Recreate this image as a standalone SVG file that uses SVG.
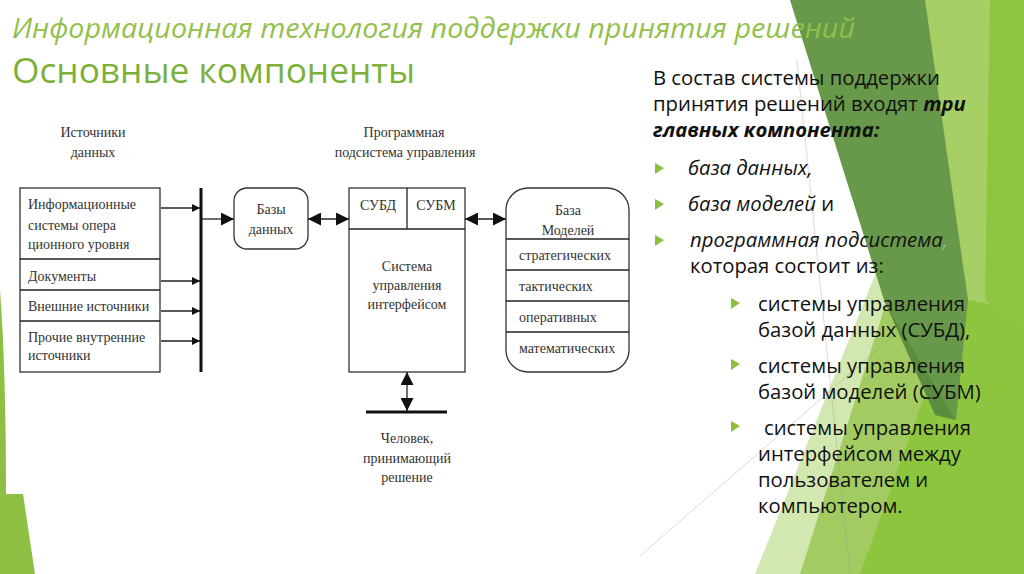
<svg xmlns="http://www.w3.org/2000/svg" width="1024" height="574" viewBox="0 0 1024 574">
<defs>
<style>
.dg{font-family:"Liberation Serif",serif;font-size:14px;fill:#333}
.dgc{font-family:"Liberation Serif",serif;font-size:14px;fill:#333;text-anchor:middle}
.box{fill:#fff;stroke:#333;stroke-width:1.3}
.ln{stroke:#222;stroke-width:1.3;fill:none}
.bus{stroke:#111;stroke-width:3;fill:none}
.rt{font-family:"Open Sans",sans-serif;font-size:20.3px;fill:#111}
.it{font-style:italic}
.bi{font-style:italic;font-weight:bold}
.bul{fill:#8dbf3e}
</style>
<marker id="sa" viewBox="0 0 10 10" refX="10" refY="5" markerWidth="8" markerHeight="8" markerUnits="userSpaceOnUse" orient="auto"><path d="M0,0 L10,5 L0,10 Z" fill="#111"/></marker>
<marker id="la" viewBox="0 0 10 10" refX="10" refY="5" markerWidth="13" markerHeight="13" markerUnits="userSpaceOnUse" orient="auto-start-reverse"><path d="M0,0 L10,5 L0,10 Z" fill="#111"/></marker>
</defs>
<rect width="1024" height="574" fill="#fff"/>
<g id="background">
<polygon points="755,574 885,250 905,574" fill="#d3e8b0"/>
<polygon points="800,574 890,290 1024,200 1024,574" fill="#a2cc62"/>
<polygon points="860,574 1024,120 1024,574" fill="#8ec53e"/>
<polygon points="922,0 1024,0 1024,310 968,300" fill="#a6cf66"/>
<polygon points="990,0 1024,0 1024,330 985,300" fill="#8fc641"/>
<polygon points="790,0 925,0 968,300 956,420 884,300" fill="#68994a"/>
<polygon points="884,300 956,420 935,415" fill="#5c8c3f"/>
<line x1="797" y1="60" x2="850" y2="574" stroke="#999" stroke-width="0.6" opacity="0.6"/>
<line x1="640" y1="556" x2="900" y2="330" stroke="#999" stroke-width="0.6" opacity="0.6"/>
<path d="M0,290 Q6,370 6,494 L23,494 L35,574 L0,574 Z" fill="#8dc042"/>
</g>
<g id="title">
<text x="12" y="38" font-family="Open Sans, sans-serif" font-size="27" font-style="italic" fill="#93c04c" textLength="843" lengthAdjust="spacingAndGlyphs">Информационная технология поддержки принятия решений</text>
<text x="12" y="83" font-family="Open Sans, sans-serif" font-size="34" fill="#7cb03a" textLength="403" lengthAdjust="spacingAndGlyphs">Основные компоненты</text>
</g>
<g id="sources-label">
<text class="dgc" x="93" y="137">Источники</text>
<text class="dgc" x="93" y="157">данных</text>
</g>
<g id="sources">
<rect class="box" x="20" y="188" width="140" height="184"/>
<line class="ln" x1="20" y1="259" x2="160" y2="259"/>
<line class="ln" x1="20" y1="290" x2="160" y2="290"/>
<line class="ln" x1="20" y1="321" x2="160" y2="321"/>
<text class="dg" x="28" y="209">Информационные</text>
<text class="dg" x="28" y="230">системы опера</text>
<text class="dg" x="28" y="249">ционного уровня</text>
<text class="dg" x="28" y="281">Документы</text>
<text class="dg" x="28" y="311">Внешние источники</text>
<text class="dg" x="28" y="342">Прочие внутренние</text>
<text class="dg" x="28" y="360">источники</text>
</g>
<g id="bus">
<line class="bus" x1="201" y1="188" x2="201" y2="372"/>
</g>
<g id="databases">
<rect class="box" x="234" y="188" width="74" height="61" rx="13"/>
<text class="dgc" x="271" y="214">Базы</text>
<text class="dgc" x="271" y="234">данных</text>
</g>
<g id="program-label">
<text class="dgc" x="404" y="137">Программная</text>
<text class="dgc" x="405" y="157">подсистема управления</text>
</g>
<g id="program">
<rect class="box" x="349" y="188" width="116" height="184"/>
<line class="ln" x1="349" y1="229" x2="465" y2="229"/>
<line class="ln" x1="407" y1="188" x2="407" y2="229"/>
<text class="dgc" x="378" y="210">СУБД</text>
<text class="dgc" x="436" y="210">СУБМ</text>
<text class="dgc" x="407" y="271">Система</text>
<text class="dgc" x="407" y="290">управления</text>
<text class="dgc" x="407" y="309">интерфейсом</text>
</g>
<g id="models">
<rect class="box" x="506" y="188" width="123" height="184" rx="22"/>
<line class="ln" x1="506" y1="239" x2="629" y2="239"/>
<line class="ln" x1="506" y1="270" x2="629" y2="270"/>
<line class="ln" x1="506" y1="301" x2="629" y2="301"/>
<line class="ln" x1="506" y1="332" x2="629" y2="332"/>
<text class="dgc" x="568" y="215">База</text>
<text class="dgc" x="568" y="235">Моделей</text>
<text class="dg" x="519" y="260">стратегических</text>
<text class="dg" x="519" y="291">тактических</text>
<text class="dg" x="519" y="322">оперативных</text>
<text class="dg" x="519" y="353">математических</text>
</g>
<g id="person">
<line class="bus" x1="366" y1="412" x2="447" y2="412"/>
<text class="dgc" x="407" y="443">Человек,</text>
<text class="dgc" x="407" y="463">принимающий</text>
<text class="dgc" x="407" y="482">решение</text>
</g>
<g id="connectors">
<line class="ln" x1="161" y1="208" x2="200" y2="208" marker-end="url(#sa)"/>
<line class="ln" x1="161" y1="281" x2="200" y2="281" marker-end="url(#sa)"/>
<line class="ln" x1="161" y1="311" x2="200" y2="311" marker-end="url(#sa)"/>
<line class="ln" x1="161" y1="341" x2="200" y2="341" marker-end="url(#sa)"/>
<line class="ln" x1="202" y1="219" x2="234" y2="219" stroke-width="2" marker-end="url(#la)"/>
<line class="ln" x1="308" y1="219" x2="349" y2="219" stroke-width="2" marker-start="url(#la)" marker-end="url(#la)"/>
<line class="ln" x1="465" y1="219" x2="506" y2="219" stroke-width="2" marker-start="url(#la)" marker-end="url(#la)"/>
<line class="ln" x1="407" y1="372" x2="407" y2="411" stroke-width="2" marker-start="url(#la)" marker-end="url(#la)"/>
</g>
<g id="right-text">
<text class="rt" x="653" y="85">В состав системы поддержки</text>
<text class="rt" x="653" y="111">принятия решений входят <tspan class="bi">три</tspan></text>
<text class="rt bi" x="653" y="137">главных компонента:</text>
<polygon class="bul" points="655,163 664,168 655,174"/>
<text class="rt it" x="688" y="175">база данных,</text>
<polygon class="bul" points="655,199 664,204 655,210"/>
<text class="rt" x="688" y="211"><tspan class="it">база моделей</tspan> и</text>
<polygon class="bul" points="655,235 664,240 655,246"/>
<text class="rt it" x="690" y="247">программная подсистема<tspan fill="#aaa">,</tspan></text>
<text class="rt" x="690" y="273">которая состоит из:</text>
<polygon class="bul" points="731,298 740,303 731,309"/>
<text class="rt" x="758" y="311">системы управления</text>
<text class="rt" x="758" y="337">базой данных (СУБД),</text>
<polygon class="bul" points="731,359 740,364 731,370"/>
<text class="rt" x="758" y="373">системы управления</text>
<text class="rt" x="758" y="399">базой моделей (СУБМ)</text>
<polygon class="bul" points="731,421 740,426 731,432"/>
<text class="rt" x="764" y="435">системы управления</text>
<text class="rt" x="758" y="461">интерфейсом между</text>
<text class="rt" x="758" y="487">пользователем и</text>
<text class="rt" x="758" y="513">компьютером.</text>
</g>
</svg>
